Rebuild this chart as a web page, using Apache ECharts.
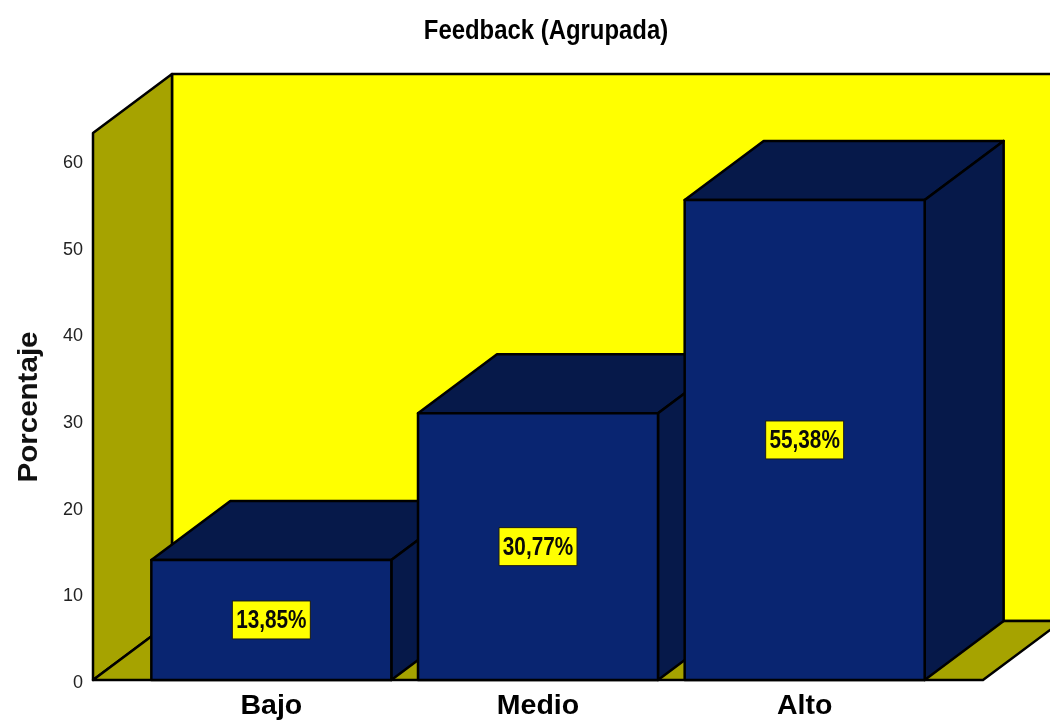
<!DOCTYPE html>
<html>
<head>
<meta charset="utf-8">
<title>Feedback (Agrupada)</title>
<script src="https://cdn.jsdelivr.net/npm/echarts@6/dist/echarts.min.js"></script>
<style>
  html, body { margin: 0; padding: 0; background: #fff; }
  #main { width: 1050px; height: 720px; }
</style>
</head>
<body>
<div id="main"></div>
<script>
const categories = ["Bajo", "Medio", "Alto"];
const percentages = [13.85, 30.77, 55.38];

const DEPTH_X = 79;
const DEPTH_Y = -59;
const WALL_PAD = 45; // el suelo sobresale de las categorias
const FONT = '"Liberation Sans", Arial, sans-serif';

function poly(points, fill) {
  return {
    type: "polygon",
    shape: { points: points },
    style: { fill: fill, stroke: "#000", lineWidth: 2.5, lineJoin: "round" },
  };
}

// paredes y suelo
function renderWalls(params) {
  const cs = params.coordSys;
  const left = cs.x - WALL_PAD;
  const right = cs.x + cs.width + WALL_PAD;
  const top = cs.y;
  const bottom = cs.y + cs.height;
  return {
    type: "group",
    children: [
      poly([[left + DEPTH_X, top + DEPTH_Y], [right + DEPTH_X, top + DEPTH_Y], [right + DEPTH_X, bottom + DEPTH_Y], [left + DEPTH_X, bottom + DEPTH_Y]], "#ffff00"),
      poly([[left, top], [left + DEPTH_X, top + DEPTH_Y], [left + DEPTH_X, bottom + DEPTH_Y], [left, bottom]], "#a6a300"),
      poly([[left, bottom], [left + DEPTH_X, bottom + DEPTH_Y], [right + DEPTH_X, bottom + DEPTH_Y], [right, bottom]], "#a6a300"),
    ],
  };
}

// barra 3D: frente, tapa, lateral y etiqueta
function renderBar(params, api) {
  const idx = api.value(0);
  const val = api.value(1);
  const topPt = api.coord([idx, val]);
  const basePt = api.coord([idx, 0]);
  const w = api.size([1, 0])[0] * 0.9;
  const x0 = topPt[0] - w / 2;
  const x1 = topPt[0] + w / 2;
  const yTop = topPt[1];
  const yBase = basePt[1];
  const midY = (yTop + yBase) / 2;
  return {
    type: "group",
    children: [
      poly([[x0, yTop], [x0 + DEPTH_X, yTop + DEPTH_Y], [x1 + DEPTH_X, yTop + DEPTH_Y], [x1, yTop]], "#06194a"),
      poly([[x1, yTop], [x1 + DEPTH_X, yTop + DEPTH_Y], [x1 + DEPTH_X, yBase + DEPTH_Y], [x1, yBase]], "#06194a"),
      poly([[x0, yTop], [x1, yTop], [x1, yBase], [x0, yBase]], "#092571"),
      {
        type: "rect",
        shape: { x: topPt[0] - 39, y: midY - 19, width: 78, height: 38 },
        style: { fill: "#ffff00", stroke: "#1a1a1a", lineWidth: 1 },
      },
      {
        type: "text",
        x: topPt[0],
        y: midY + 1,
        scaleX: 0.83,
        style: {
          text: val.toFixed(2).replace(".", ",") + "%",
          fill: "#0a0a0a",
          font: "bold 25px " + FONT,
          align: "center",
          verticalAlign: "middle",
        },
      },
    ],
  };
}

const myChart = echarts.init(document.getElementById("main"));
myChart.setOption({
  animation: false,
  backgroundColor: "#fff",
  graphic: [
    {
      type: "text",
      x: 546,
      y: 32,
      scaleX: 0.885,
      style: {
        text: "Feedback (Agrupada)",
        fill: "#000",
        font: "bold 27px " + FONT,
        align: "center",
        verticalAlign: "middle",
      },
    },
    {
      type: "text",
      x: 29,
      y: 407,
      rotation: Math.PI / 2,
      scaleX: 1.055,
      style: {
        text: "Porcentaje",
        fill: "#111",
        font: "bold 28px " + FONT,
        align: "center",
        verticalAlign: "middle",
      },
    },
  ],
  grid: { left: 138, top: 133, width: 800, height: 547, outerBoundsMode: "none" },
  xAxis: {
    type: "category",
    data: categories,
    axisLine: { show: false },
    axisTick: { show: false },
    axisLabel: { margin: 12, fontFamily: FONT, fontWeight: "bold", fontSize: 28.5, color: "#000" },
  },
  yAxis: {
    type: "value",
    min: 0,
    max: 63.1,
    interval: 10,
    splitLine: { show: false },
    axisLine: { show: false },
    axisTick: { show: false },
    axisLabel: { margin: 55, showMaxLabel: false, verticalAlign: "top", lineHeight: 6, fontFamily: FONT, fontSize: 18, color: "#222" },
  },
  series: [
    {
      type: "custom",
      silent: true,
      renderItem: renderWalls,
      data: [[0, 0]],
      encode: { x: 0, y: 1 },
      z: 1,
    },
    {
      type: "custom",
      renderItem: renderBar,
      data: percentages.map((v, i) => [i, v]),
      encode: { x: 0, y: 1 },
      z: 2,
    },
  ],
});
</script>
</body>
</html>
